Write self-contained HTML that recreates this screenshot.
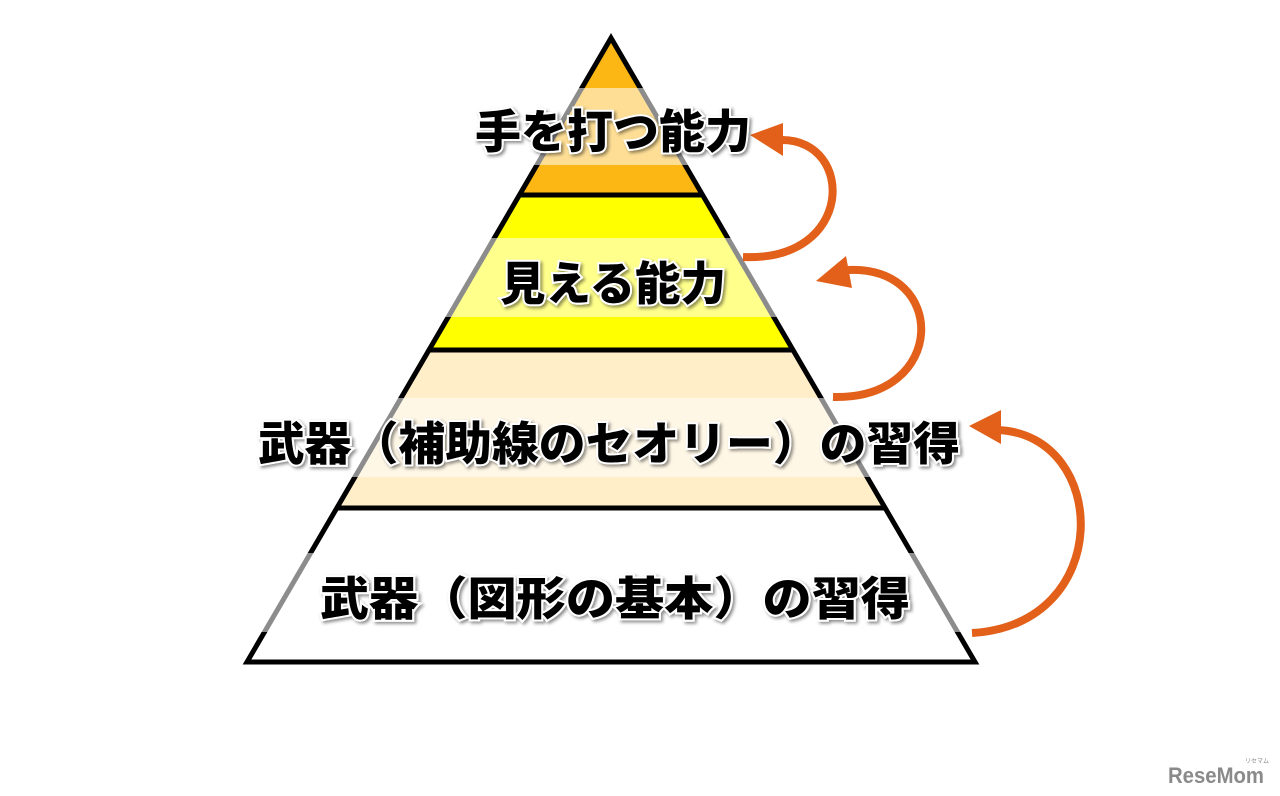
<!DOCTYPE html>
<html><head><meta charset="utf-8"><style>
html,body{margin:0;padding:0;background:#fff;}
svg{display:block}
text{font-family:"Liberation Sans","Noto Sans CJK JP",sans-serif;font-weight:900;font-size:46px;fill:#000;stroke:#fff;stroke-width:4px;paint-order:stroke;}
</style></head><body>
<svg width="1280" height="796" viewBox="0 0 1280 796" xmlns="http://www.w3.org/2000/svg">
<defs>
<clipPath id="pyr"><polygon points="611,38 247,662 975,662"/></clipPath>
<filter id="sh" x="-5%" y="-20%" width="110%" height="140%">
<feDropShadow dx="2" dy="2" stdDeviation="1.5" flood-color="#000" flood-opacity="0.45"/>
</filter>
</defs>
<g clip-path="url(#pyr)">
<rect x="0" y="0" width="1280" height="195" fill="#fdb714"/>
<rect x="0" y="195" width="1280" height="155" fill="#ffff00"/>
<rect x="0" y="350" width="1280" height="158" fill="#ffeec8"/>
<rect x="0" y="508" width="1280" height="154" fill="#ffffff"/>
</g>
<polygon points="611,38 247,662 975,662" fill="none" stroke="#000" stroke-width="5" stroke-linejoin="miter"/>
<line x1="520" y1="195" x2="702" y2="195" stroke="#000" stroke-width="5"/>
<line x1="430" y1="350" x2="792" y2="350" stroke="#000" stroke-width="5"/>
<line x1="338" y1="508" x2="884" y2="508" stroke="#000" stroke-width="5"/>
<!-- translucent text bands -->
<rect x="200" y="88" width="880" height="77" fill="#fff" fill-opacity="0.55"/>
<rect x="200" y="238" width="880" height="79" fill="#fff" fill-opacity="0.55"/>
<rect x="200" y="398" width="880" height="79" fill="#fff" fill-opacity="0.55"/>
<rect x="200" y="553" width="880" height="79" fill="#fff" fill-opacity="0.55"/>
<!-- arrows -->
<g fill="none" stroke="#e2601a" stroke-width="8">
<path d="M743,257 C 855,262 855,140 782,140"/>
<path d="M833,397 C 948,400 948,265 848,270"/>
<path d="M972,633 C 1115,625 1110,435 998,430"/>
</g>
<g fill="#e2601a">
<polygon points="750,135 783,123 783,156"/>
<polygon points="816,281 846,256 852,288"/>
<polygon points="969,426 1001,410 1001,444"/>
</g>
<g filter="url(#sh)">
<text x="475" y="148" textLength="276" lengthAdjust="spacingAndGlyphs">手を打つ能力</text>
<text x="500" y="300" textLength="226" lengthAdjust="spacingAndGlyphs">見える能力</text>
<text x="258" y="460" textLength="702" lengthAdjust="spacingAndGlyphs">武器（補助線のセオリー）の習得</text>
<text x="320" y="615" textLength="590" lengthAdjust="spacingAndGlyphs">武器（図形の基本）の習得</text>
</g>
<text x="1168" y="783" style="font-size:22px;fill:#8a8a8a;stroke:none;font-weight:bold" textLength="96" lengthAdjust="spacingAndGlyphs">ReseMom</text>
<text x="1245" y="763" style="font-size:6px;fill:#8a8a8a;stroke:none;font-weight:normal">リセマム</text>
</svg>
</body></html>
